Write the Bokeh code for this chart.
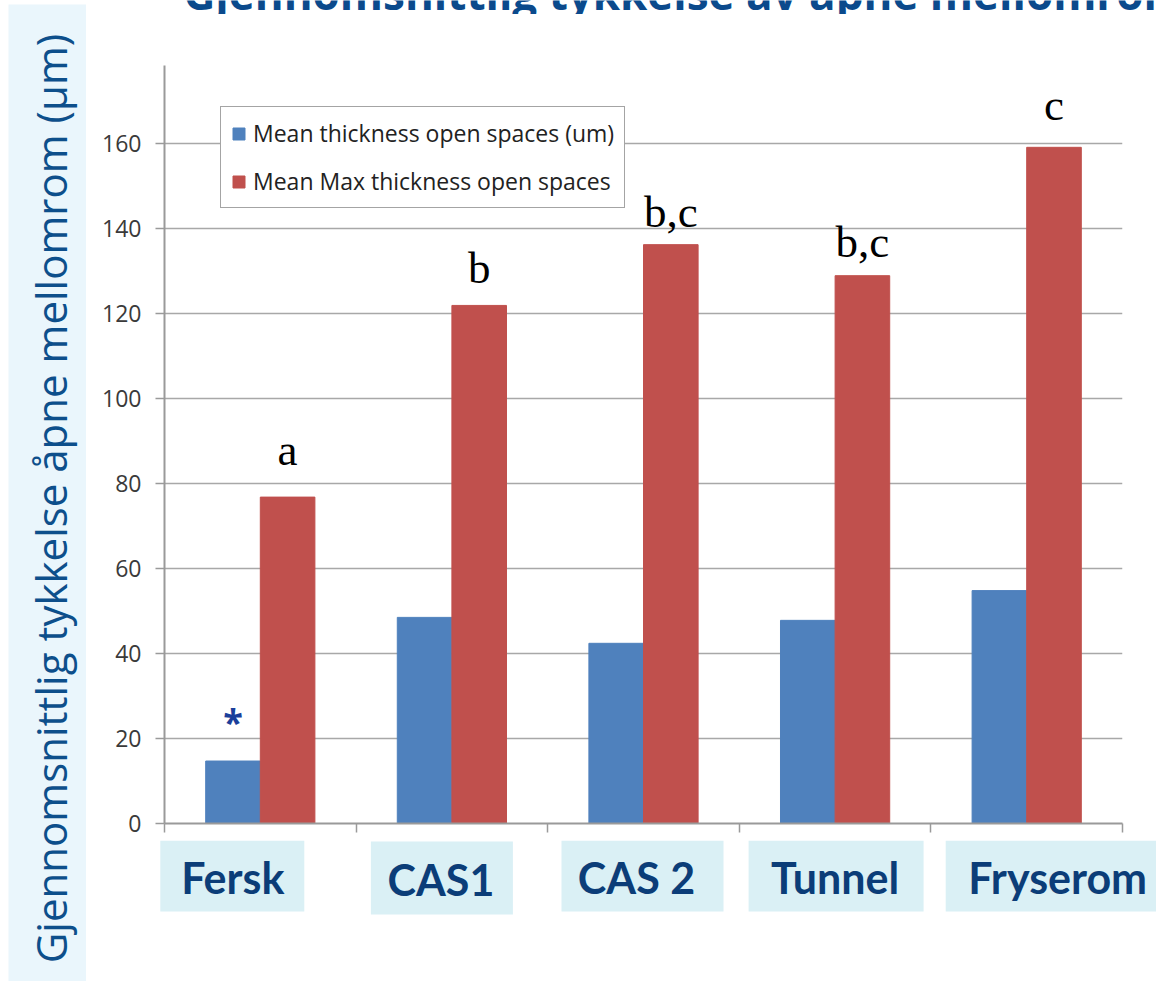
import math
from bokeh.plotting import figure
from bokeh.models import FixedTicker, ColumnDataSource, Range1d
from bokeh.layouts import row, column
from bokeh.transform import dodge
from bokeh.core.properties import value
from bokeh.embed import file_html
from bokeh.resources import INLINE

# ---------------- data ----------------
categories = ["Fersk", "CAS1", "CAS 2", "Tunnel", "Fryserom"]
mean_thickness = [14.7, 48.5, 42.4, 47.8, 54.8]
mean_max_thickness = [76.8, 121.9, 136.2, 128.9, 159.1]
significance = ["a", "b", "b,c", "b,c", "c"]
star_marks = ["*", "", "", "", ""]
series_names = ["Mean thickness open spaces (um)", "Mean Max thickness open spaces"]
y_ticks = [0, 20, 40, 60, 80, 100, 120, 140, 160, 180]
y_title = "Gjennomsnittlig tykkelse åpne mellomrom (µm)"
slide_title = "Gjennomsnittlig tykkelse av åpne mellomrom"

# ---------------- layout / style ----------------
W, H = 1156, 981
STRIP_W = 86
TOP_H = 14
MAIN_W = W - STRIP_W
BORDER_L, BORDER_R, BORDER_T, BORDER_B = 78, 34, 51, 17
FRAME_H = 758
MAIN_H = BORDER_T + FRAME_H + BORDER_B
BOTTOM_H = H - TOP_H - MAIN_H
X_END = 5
PX_PER_UNIT = (MAIN_W - BORDER_L - BORDER_R) / X_END

letter_offset = [-47, -37, -33, -34, -42]
box_dx = [-28, -10, -1, 1, 34]          # px, box centre relative to category centre
box_w = [144, 142, 162, 175, 230]        # px
box_h = [71, 73, 71, 71, 71]             # px
box_y = [35.5, 37.5, 35.5, 35.5, 35.5]   # px from top of bottom strip
text_dx = [0.5, -1, -6, -1, -3]          # px, text centre relative to box centre

BLUE = "#4f81bd"
RED = "#c0504d"
DARK_BLUE = "#0b3d78"
BAR_W = 0.285

x_center = [i + 0.5 for i in range(len(categories))]
source = ColumnDataSource(dict(
    x=x_center, blue=mean_thickness, red=mean_max_thickness,
    sig=significance, sig_off=letter_offset, star=star_marks,
))

# ---- left strip with vertical axis title ----
left = figure(width=STRIP_W, height=H, x_range=Range1d(8, STRIP_W), y_range=Range1d(H, 4),
              x_axis_type=None, y_axis_type=None, toolbar_location=None,
              output_backend="svg", min_border_left=8, min_border_right=0,
              min_border_top=4, min_border_bottom=0, frame_align=False,
              outline_line_color=None, background_fill_color="#eaf6fc",
              border_fill_color="white")
left.grid.visible = False
left.text(x=[50], y=[498], text=[y_title], angle=math.pi / 2,
          text_align="center", text_baseline="middle",
          text_font=value("Open Sans"), text_font_size="42px", text_color="#0d4f8b")

# ---- top strip with the cut-off slide title ----
top = figure(width=MAIN_W, height=TOP_H, x_range=Range1d(STRIP_W, W), y_range=Range1d(TOP_H, 0),
             x_axis_type=None, y_axis_type=None, toolbar_location=None,
             output_backend="svg", min_border=0, frame_align=False,
             outline_line_color=None, background_fill_color="white", border_fill_color="white")
top.grid.visible = False
top.text(x=[183], y=[-8], text=[slide_title], text_align="left", text_baseline="alphabetic",
         text_font=value("Open Sans"), text_font_style="bold", text_font_size="44px",
         text_color="#0b4a8c")

# ---- main chart ----
p = figure(width=MAIN_W, height=MAIN_H, x_range=Range1d(0, X_END),
           y_range=Range1d(0, FRAME_H / 4.25),
           toolbar_location=None, output_backend="svg", frame_align=False,
           min_border_left=BORDER_L, min_border_right=BORDER_R,
           min_border_top=BORDER_T, min_border_bottom=BORDER_B,
           outline_line_color=None, background_fill_color="white", border_fill_color="white")

p.vbar(x=dodge("x", -BAR_W / 2, range=p.x_range), top="blue", width=BAR_W, source=source,
       fill_color=BLUE, line_color=BLUE, legend_label=series_names[0])
p.vbar(x=dodge("x", BAR_W / 2, range=p.x_range), top="red", width=BAR_W, source=source,
       fill_color=RED, line_color=RED, legend_label=series_names[1])

p.text(x=dodge("x", BAR_W / 2, range=p.x_range), y="red", text="sig", y_offset="sig_off",
       source=source, text_align="center", text_baseline="alphabetic",
       text_font=value("Liberation Serif"), text_font_size="45px", text_color="black")
p.text(x=dodge("x", -BAR_W / 2, range=p.x_range), y="blue", text="star", y_offset=-40,
       source=source, text_align="center", text_baseline="alphabetic",
       text_font=value("Open Sans"), text_font_style="bold", text_font_size="36px",
       text_color="#1b3f9a")

p.yaxis.ticker = FixedTicker(ticks=y_ticks)
p.yaxis.major_tick_out = 9
p.yaxis.major_tick_in = 0
p.yaxis.minor_tick_out = 0
p.yaxis.minor_tick_in = 0
p.yaxis.major_label_standoff = 14
p.yaxis.major_label_text_font = "Open Sans"
p.yaxis.major_label_text_font_size = "23px"
p.yaxis.major_label_text_color = "#3a3a3a"
p.yaxis.axis_line_color = "#9a9a9a"
p.yaxis.axis_line_width = 2
p.yaxis.major_tick_line_color = "#9a9a9a"
p.yaxis.major_tick_line_width = 1.5

p.xaxis.ticker = FixedTicker(ticks=list(range(X_END + 1)))
p.xaxis.major_label_overrides = {i: "" for i in range(X_END + 1)}
p.xaxis.major_label_standoff = 0
p.xaxis.major_label_text_font_size = "2px"
p.xaxis.major_tick_out = 9
p.xaxis.major_tick_in = 0
p.xaxis.minor_tick_out = 0
p.xaxis.minor_tick_in = 0
p.xaxis.axis_line_color = "#9a9a9a"
p.xaxis.axis_line_width = 2
p.xaxis.major_tick_line_color = "#9a9a9a"
p.xaxis.major_tick_line_width = 1.5

p.xgrid.visible = False
p.ygrid.ticker = FixedTicker(ticks=y_ticks)
p.ygrid.grid_line_color = "#a8a8a8"
p.ygrid.grid_line_width = 1.5

lg = p.legend[0]
lg.location = (56, 615)
lg.border_line_color = "#4a4a4a"
lg.border_line_width = 1.2
lg.background_fill_color = "white"
lg.background_fill_alpha = 1
lg.padding = 10
lg.spacing = 16
lg.margin = 0
lg.glyph_width = 15
lg.glyph_height = 15
lg.label_height = 28
lg.label_standoff = 7
lg.label_text_font = "Open Sans"
lg.label_text_font_size = "23px"
lg.label_text_color = "#222222"

# ---- bottom strip with the category boxes ----
x_start_b = -BORDER_L / PX_PER_UNIT
x_end_b = X_END + BORDER_R / PX_PER_UNIT
bottom = figure(width=MAIN_W, height=BOTTOM_H, x_range=Range1d(x_start_b, x_end_b),
                y_range=Range1d(BOTTOM_H, 0), x_axis_type=None, y_axis_type=None,
                toolbar_location=None, output_backend="svg", min_border=0, frame_align=False,
                outline_line_color=None, background_fill_color="white", border_fill_color="white")
bottom.grid.visible = False
box_x = [x_center[i] + box_dx[i] / PX_PER_UNIT for i in range(len(categories))]
txt_x = [box_x[i] + text_dx[i] / PX_PER_UNIT for i in range(len(categories))]
bsrc = ColumnDataSource(dict(bx=box_x, tx=txt_x, by=box_y, ty=[y + 1 for y in box_y],
                             bw=box_w, bh=box_h, cat=categories))
bottom.rect(x="bx", y="by", width="bw", height="bh", width_units="screen", height_units="screen",
            source=bsrc, fill_color="#daf0f5", line_color=None)
bottom.text(x="tx", y="ty", text="cat", source=bsrc, text_align="center",
            text_baseline="alphabetic", text_font=value("Lato"), text_font_style="bold",
            text_font_size="43px", text_color=DARK_BLUE)

layout = row(left, column(top, p, bottom, spacing=0), spacing=0)
open("out.html", "w").write(file_html(layout, INLINE))
